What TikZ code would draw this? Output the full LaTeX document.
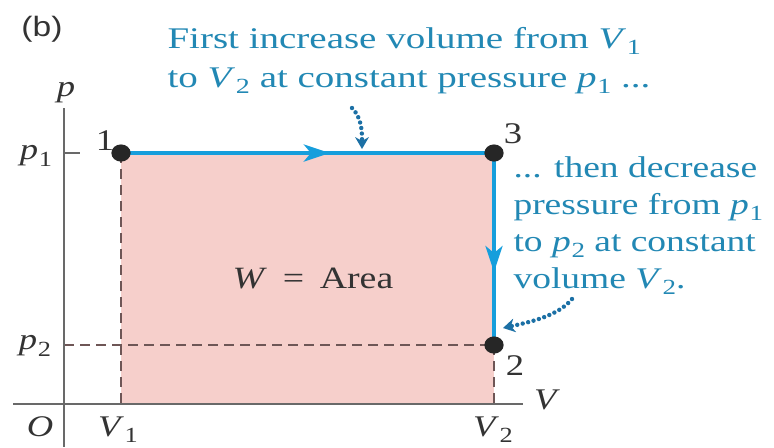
\documentclass[tikz,border=0pt]{standalone}
\usepackage{fontspec}
\setmainfont{Liberation Serif}
\newfontfamily\panelfont{Liberation Sans}
\usepackage{graphicx}
\usepackage{tikz}
\usetikzlibrary{arrows.meta,positioning,calc,backgrounds,decorations.markings}

\definecolor{procblue}{RGB}{22,158,220}
\definecolor{notecol}{RGB}{34,136,180}
\definecolor{dotcol}{RGB}{28,112,165}
\definecolor{areapink}{RGB}{246,207,203}
\definecolor{guidebrown}{RGB}{110,86,86}
\definecolor{axisgray}{RGB}{105,105,105}
\definecolor{pointdark}{RGB}{38,38,38}

% italic symbol with lowered subscript
\newcommand{\qsym}[2]{\textit{#1}\kern0.02em\raisebox{-0.45ex}{\scalebox{0.72}{#2}}}

\begin{document}
\begin{tikzpicture}[
    x=0.5pt, y=-0.5pt,
    axis/.style={draw=axisgray, line width=1.3pt},
    guide/.style={draw=guidebrown, line width=1.1pt, dash pattern=on 5pt off 3pt},
    pathline/.style={draw=procblue, line width=2pt},
    midarrow/.style={postaction={decorate}, decoration={markings, mark=at position #1 with {\arrow{Stealth[length=13pt,width=8.5pt,inset=3.5pt]}}}},
    dotarrow/.style={draw=dotcol, line width=2.2pt, line cap=round, dash pattern=on 0pt off 2.8pt, -{Stealth[length=6pt,width=7pt,line width=0pt]}},
    statept/.style={circle, fill=pointdark, inner sep=0pt, minimum size=8.6pt, xscale=1.12},
    axlabel/.style={font=\fontsize{15}{17}\selectfont, text=black!80, xscale=1.22, inner sep=0pt},
    note/.style={font=\fontsize{15}{18.5}\selectfont, text=notecol, align=left, xscale=1.25, inner sep=0pt, anchor=base west}
]
\useasboundingbox (0,0) rectangle (774,447);

% Panel tag
\node[font=\panelfont\fontsize{14}{16}\selectfont, text=black!80, xscale=1.2] (tag) at (42,29) {(b)};

% Axes
\coordinate (origin) at (64,404);
\coordinate (ptop) at (64,108);
\coordinate (pbot) at (64,447);
\coordinate (vleft) at (13,404);
\coordinate (vright) at (523,404);
\coordinate (tick) at (80,153);
\coordinate (ptick) at (64,153);
\coordinate (vone) at (121,404);
\coordinate (vtwo) at (494,404);
\coordinate (ptwo) at (64,345);

% States
\node[statept] (s1) at (121,153) {};
\node[statept] (s3) at (494,153) {};
\node[statept] (s2) at (494,345) {};

\node[axlabel] (n1) at (105,141) {1};
\node[axlabel] (n3) at (513,134) {3};
\node[axlabel] (n2) at (515,366) {2};

% Axis labels
\node[axlabel] (plab) at (66,93) {\textit{p}};
\node[axlabel] (vlab) at (547,400) {\textit{V}};
\node[axlabel] (olab) at (40,427) {\textit{O}};
\node[axlabel] (p1lab) at (36,156) {\qsym{p}{1}};
\node[axlabel] (p2lab) at (35,346) {\qsym{p}{2}};
\node[axlabel] (v1lab) at (118,430) {\qsym{V}{1}};
\node[axlabel] (v2lab) at (493,430) {\qsym{V}{2}};

\node[axlabel, font=\fontsize{15.5}{17}\selectfont] (work) at (313,278) {\textit{W} \,=\, Area};

% Notes (anchored on the baseline of their last line)
\node[note, font=\fontsize{15}{19.5}\selectfont, xscale=1.04] (topnote) at (167,87)
    {First increase volume from \qsym{V}{1}\\to \qsym{V}{2} at constant pressure \qsym{p}{1} ...};
\node[note] (sidenote) at (513,288)
    {... then decrease\\pressure from \qsym{p}{1}\\to \qsym{p}{2} at constant\\volume \qsym{V}{2}.};

\coordinate (a1s) at (352,108);
\coordinate (a1e) at (362,149);
\coordinate (a2s) at (572,299);
\coordinate (a2e) at (503,328);

\begin{scope}[on background layer]
    \fill[areapink] (s1.center) rectangle (vtwo);
    \draw[guide] (s1.center) -- (vone);
    \draw[guide] (ptwo) -- (s2.center);
    \draw[guide] (s2.center) -- (vtwo);
    \draw[axis] (ptop) -- (pbot);
    \draw[axis] (vleft) -- (vright);
    \draw[axis] (ptick) -- (tick);
    \draw[pathline, midarrow=0.56] (s1.center) -- (s3.center);
    \draw[pathline, midarrow=0.62] (s3.center) -- (s2.center);
\end{scope}

\draw[dotarrow] (a1s) .. controls (362,118) and (362,132) .. (a1e);
\draw[dotarrow] (a2s) .. controls (558,316) and (530,322) .. (a2e);

\end{tikzpicture}
\end{document}
